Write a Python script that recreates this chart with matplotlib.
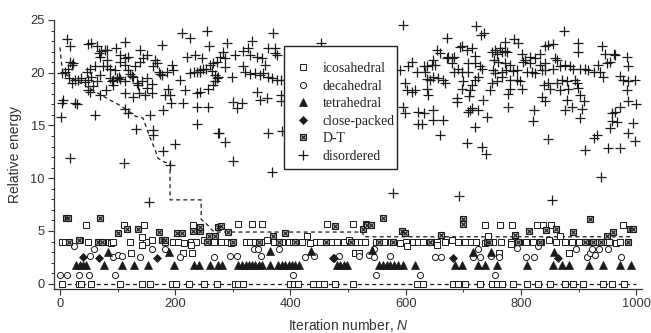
import matplotlib
matplotlib.use('Agg')
import matplotlib.pyplot as plt
from matplotlib.patches import Rectangle
from matplotlib.legend_handler import HandlerTuple

plt.rcParams['font.family'] = ['Liberation Sans', 'DejaVu Sans']
plt.rcParams['mathtext.fontset'] = 'custom'
plt.rcParams['mathtext.it'] = 'Liberation Sans:italic'
plt.rcParams['mathtext.rm'] = 'Liberation Sans'

# ---------------- data ----------------
ico_n = [3, 33, 36, 54, 104, 142, 156, 194, 201, 224, 250, 273, 304, 309, 318, 399, 406, 413, 439, 450,
         458, 477, 509, 620, 630, 682, 691, 703, 729, 750, 759, 767, 786, 811, 830, 851, 877, 891, 908, 943,
         958, 979,
         3, 8, 35, 48, 85, 88, 92, 122, 150, 160, 182, 196, 205, 215, 228, 236, 250, 262, 268, 280,
         290, 296, 322, 330, 338, 348, 360, 372, 386, 398, 405, 420, 433, 445, 452, 470, 480, 492, 502, 515,
         522, 530, 548, 562, 575, 590, 600, 612, 622, 630, 645, 655, 668, 680, 690, 702, 714, 722, 737, 752,
         765, 782, 797, 808, 820, 834, 848, 860, 876, 888, 900, 912, 930, 945, 952, 965, 972, 985,
         45, 111, 146, 231, 309, 333, 350, 463, 508, 531, 738, 764, 784, 828, 838, 852, 977,
         124, 213, 229, 143, 143, 227, 512, 519, 428, 743, 868, 884, 762, 782, 655, 602]
ico_e = [0] * 42 + \
        [4.0, 4.0, 4.1, 4.0, 4.0, 3.9, 4.0, 4.0, 4.0, 4.1, 4.0, 4.0, 4.0, 3.9, 4.0, 4.0, 4.1, 4.0, 4.0, 4.0,
         4.0, 3.9, 4.0, 4.0, 4.0, 4.0, 4.1, 4.0, 4.0, 4.0, 4.0, 4.0, 3.9, 4.0, 4.0, 4.0, 4.0, 4.0, 4.1, 4.0,
         4.0, 4.0, 4.0, 4.0, 4.0, 3.9, 4.0, 4.0, 4.0, 4.0, 4.0, 4.0, 4.0, 4.1, 4.0, 4.0, 4.0, 4.0, 3.9, 4.0,
         4.0, 4.0, 4.0, 4.0, 4.0, 4.0, 4.1, 4.0, 4.0, 4.0, 4.0, 4.0, 4.0, 4.0, 4.0, 3.9, 4.0, 4.0] + \
        [5.6, 5.6, 5.6, 5.6, 5.7, 5.7, 5.7, 5.7, 5.7, 5.7, 5.6, 5.6, 5.6, 5.6, 5.6, 5.6, 5.6] + \
        [2.9, 2.9, 2.9, 4.4, 3.7, 3.7, 2.9, 2.9, 4.5, 4.5, 4.5, 2.9, 2.9, 3.8, 3.7, 3.6]

dec_n = [0, 12, 33, 51, 95, 404, 548, 625, 755,
         24, 52, 59, 92, 100, 107, 139, 159, 183, 208, 268,
         336, 343, 295, 307, 349, 380, 425, 441, 484, 519, 536, 545, 545, 573, 651,
         661, 717, 725, 729, 748, 762, 793, 809, 823, 830, 896, 915, 919, 924, 929, 936, 951, 974]
dec_e = [0.8, 0.8, 0.8, 0.8, 0.8, 0.8, 0.8, 0.8, 0.8,
         3.6, 2.65, 3.3, 2.5, 2.7, 2.6, 2.5, 3.3, 3.3, 2.5, 2.5,
         3.3, 3.3, 2.65, 2.65, 2.65, 3.3, 2.5, 2.65, 2.65, 2.6, 2.7, 3.3, 2.5, 2.65, 2.5,
         2.5, 2.5, 3.3, 2.5, 2.65, 2.5, 3.4, 2.5, 2.5, 3.6, 3.3, 2.5, 2.95, 3.3, 2.75, 3.3, 3.3, 2.5]

tet_n = [28, 35, 40, 45, 77, 108, 128, 153, 198, 233, 241, 260, 274, 84, 190,
         281, 309, 316, 322, 328, 333, 339, 345, 351, 365, 379, 385, 391, 397, 402, 408, 414,
         480, 486, 492, 498, 554, 561, 567, 573, 579, 587, 596, 616, 365, 435, 542,
         686, 697, 726, 738, 759, 811, 856, 871, 884, 918, 943, 971, 991, 716, 748, 858]
tet_e = [1.8] * 13 + [3.0, 3.0] + [1.8] * 29 + [3.1, 3.1, 3.2] + [1.8] * 13 + [3.0, 3.0, 3.0]

cp_n = [40, 68, 169, 474, 476, 682, 865]
cp_e = [2.5, 2.4, 2.4, 2.4, 2.4, 2.4, 2.4]

dt_n = [10, 14, 69, 33, 16, 66, 73, 101, 117, 135, 172, 177, 182, 203, 211, 230, 243, 243, 255, 275,
        279, 259, 269, 292, 301, 346, 369, 380, 391, 407, 462, 477, 505, 526, 532, 539, 560, 554, 578,
        593, 599, 642, 662, 700, 700, 741, 745, 790, 794, 814, 833, 844, 861, 891, 920, 911, 925, 938,
        949, 960, 990, 995, 986]
dt_e = [6.2, 6.2, 6.2, 4.15, 4.0, 4.0, 4.0, 4.8, 5.2, 5.2, 4.9, 4.15, 4.15, 4.8, 4.8, 5.0, 5.0, 5.4, 4.0, 5.4,
        5.5, 4.5, 4.5, 4.9, 4.0, 4.0, 4.5, 4.0, 4.8, 4.0, 4.0, 5.5, 4.0, 5.2, 5.6, 5.6, 6.25, 4.0, 4.0,
        5.0, 4.8, 4.0, 4.6, 6.1, 5.7, 4.0, 4.0, 4.6, 4.0, 5.0, 4.0, 5.1, 5.2, 4.9, 6.15, 4.0, 4.0, 4.0,
        4.55, 4.9, 5.2, 5.2, 4.0]

dis_n = [13, 17, 3, 8, 14, 20, 17, 22, 15, 26, 21, 32, 37, 43, 49, 53, 47, 52, 49, 58,
         52, 64, 69, 61, 49, 53, 64, 68, 72, 78, 81, 69, 81, 75, 81, 87, 95, 87, 92, 90,
         99, 102, 104, 92, 80, 70, 97, 113, 104, 113, 118, 104, 113, 118, 122, 125, 127, 113, 113, 127,
         137, 139, 130, 139, 144, 151, 134, 142, 151, 135, 151, 148, 159, 159, 162, 165, 168, 171, 177, 174,
         177, 185, 194, 196, 188, 182, 191, 193, 179, 208, 211, 226, 220, 234, 246, 255, 259, 217, 214, 226,
         232, 237, 243, 243, 249, 254, 260, 266, 272, 263, 272, 269, 257, 243, 237, 237, 257, 237, 275, 3,
         6, 26, 29, 1, 61, 17, 111, 132, 156, 161, 162, 179, 200, 191, 113, 118, 155,
         370, 333, 290, 361, 373, 373, 376, 327, 318, 304, 283, 286, 278, 330, 342, 350, 356, 318, 321, 330,
         339, 347, 353, 361, 368, 376, 384, 298, 286, 269, 275, 266, 342, 347, 359, 301, 316, 307, 276, 286,
         301, 361, 368, 384, 384, 386,
         453, 595, 604, 611, 619, 599, 602, 611, 616, 590, 595, 599, 622, 621, 578, 693, 854, 938,
         722, 731, 736, 875, 671, 899, 899, 941, 946, 961, 964, 984, 986, 955, 949, 934, 788, 795, 773, 773,
         764, 755, 750, 758, 767, 776, 753, 760, 773, 781, 751, 755, 767, 774, 787, 793, 802, 804, 807, 816,
         825, 833, 842, 847, 856, 859, 862, 842, 816, 810, 819, 825, 842, 856, 868, 877, 885, 891, 903, 911,
         917, 926, 937, 943, 972, 977, 986, 998, 984, 986, 1000, 972, 964, 958, 958, 967, 955, 995, 986, 998,
         971, 951, 911, 926, 932, 903, 906, 909, 903, 888, 877, 880, 899, 894, 897, 882, 880, 872, 867, 862,
         847, 851, 840, 836, 842, 823, 821, 847, 798, 793, 802, 781, 781, 778, 778, 767, 758, 750, 746, 734,
         741, 720, 726, 712, 708, 715, 706, 733, 740, 710, 712, 715, 720, 726, 733, 729, 720, 708, 720, 715,
         706, 698, 694, 708, 691, 698, 683, 680, 674, 672, 680, 683, 660, 654, 648, 646, 651, 637, 631, 634,
         637, 642, 656, 665, 668, 648, 637, 639, 689, 689, 698, 700, 648, 647, 665, 660, 631, 628, 833, 836]
dis_e = [23.2, 22.5, 20.0, 20.1, 20.4, 20.7, 21.0, 20.9, 19.5, 19.3, 19.0, 19.3, 19.5, 19.1, 19.3, 19.6, 20.1, 20.4, 18.4, 18.7,
         18.2, 19.2, 19.8, 20.6, 22.7, 22.8, 22.5, 21.9, 22.1, 22.2, 22.2, 21.5, 21.2, 20.6, 20.6, 20.4, 20.3, 19.5, 19.3, 19.2,
         19.5, 19.6, 19.4, 18.8, 18.4, 17.9, 22.3, 22.9, 21.7, 21.4, 21.5, 21.0, 20.7, 20.3, 19.9, 19.7, 19.6, 19.2, 18.1, 17.7,
         18.1, 22.2, 20.6, 21.0, 21.4, 21.7, 19.0, 19.2, 19.5, 18.8, 18.6, 17.9, 18.1, 18.9, 20.6, 21.2, 20.9, 20.1, 22.6, 19.9,
         19.8, 20.1, 20.7, 20.3, 18.5, 17.9, 17.9, 17.1, 16.5, 19.3, 23.8, 23.3, 21.5, 21.7, 21.4, 24.0, 22.5, 18.4, 17.1, 20.0,
         20.1, 20.1, 20.3, 20.1, 20.4, 20.4, 20.7, 20.9, 21.0, 20.2, 19.5, 19.2, 18.5, 18.2, 18.1, 16.8, 16.8, 15.1, 14.3, 17.1,
         17.4, 17.1, 17.0, 15.8, 16.0, 11.9, 11.4, 14.7, 16.0, 14.6, 14.1, 12.6, 13.2, 11.3, 16.6, 16.2, 7.7,
         23.8, 23.0, 22.8, 22.3, 22.3, 21.9, 21.7, 22.3, 22.1, 21.7, 22.0, 21.4, 21.5, 21.7, 21.5, 21.4, 20.7, 20.6, 20.1, 19.9,
         20.0, 19.8, 20.0, 19.6, 19.5, 19.3, 19.3, 19.6, 20.5, 19.8, 19.6, 18.8, 18.2, 17.4, 17.6, 17.2, 17.1, 16.7, 14.3, 13.4,
         11.6, 14.3, 10.6, 17.9, 17.3, 14.5,
         22.8, 24.5, 20.6, 21.0, 20.1, 19.0, 18.4, 18.2, 18.4, 20.3, 16.8, 16.2, 16.3, 15.1, 8.6, 8.3, 7.9, 10.1,
         24.4, 23.6, 23.8, 24.0, 23.3, 22.8, 22.0, 22.5, 21.8, 21.8, 21.7, 21.5, 20.6, 21.0, 20.9, 20.7, 23.2, 22.8, 22.9, 22.1,
         22.3, 22.2, 22.0, 21.8, 22.0, 22.0, 21.2, 21.0, 20.9, 20.7, 20.3, 20.0, 20.1, 20.3, 20.2, 20.3, 21.8, 21.0, 21.2, 21.5,
         21.4, 21.8, 22.5, 22.6, 22.7, 21.4, 21.2, 20.9, 20.9, 20.1, 20.1, 20.0, 20.3, 20.4, 20.6, 20.7, 20.6, 20.4, 20.4, 20.4,
         20.3, 20.1, 20.1, 19.6, 19.7, 19.3, 19.2, 19.3, 18.4, 17.3, 17.0, 16.8, 16.3, 16.2, 15.4, 15.3, 14.8, 15.2, 14.3, 13.5,
         12.9, 12.9, 12.7, 13.8, 14.1, 15.7, 16.6, 17.3, 17.9, 16.8, 16.5, 17.4, 18.6, 19.3, 19.0, 18.5, 19.2, 19.3, 18.4, 19.0,
         19.0, 18.5, 18.8, 17.7, 17.3, 16.5, 15.4, 13.7, 19.2, 19.3, 18.5, 19.3, 18.5, 18.0, 16.8, 19.6, 19.2, 19.0, 18.4, 17.4,
         15.8, 14.9, 16.5, 16.5, 16.3, 16.7, 13.3, 13.0, 12.3, 17.8, 18.4, 18.8, 19.3, 19.6, 20.4, 20.6, 20.9, 20.9, 21.6, 22.3,
         22.2, 22.5, 22.4, 20.1, 20.4, 20.1, 20.1, 20.9, 21.5, 21.4, 21.4, 21.5, 21.9, 22.2, 21.2, 20.7, 20.7, 20.6, 20.6, 20.1,
         19.4, 19.3, 19.5, 19.3, 19.0, 19.6, 18.5, 17.9, 17.6, 17.2, 18.5, 19.2, 16.5, 15.5, 15.5, 14.1, 16.2, 15.1, 20.7, 20.3]

best_n = [0, 2, 5, 87, 101, 116, 130, 144, 156, 165, 170, 182, 191, 191, 245, 245, 252, 262, 268, 525, 527, 990]
best_e = [22.4, 21.2, 20.0, 17.4, 17.0, 16.5, 15.9, 15.7, 13.9, 12.7, 11.9, 11.5, 11.5, 7.95, 7.95, 6.1, 5.8,
          5.2, 4.9, 4.9, 4.45, 4.45]
zero_n = [0, 1000]
zero_e = [0, 0]

labels = ['icosahedral', 'decahedral', 'tetrahedral', 'close-packed', 'D-T', 'disordered']

# ---------------- figure ----------------
fig = plt.figure(figsize=(6.51, 3.33), dpi=100)
ax = fig.add_axes([54 / 651, 1 - 289 / 333, 588 / 651, 269 / 333])

K = '#1a1a1a'
dash = dict(color=K, lw=0.9, dashes=(3.2, 2.6))
ax.plot(best_n, best_e, **dash, zorder=1)
ax.plot(zero_n, zero_e, **dash, zorder=1)

h_dis, = ax.plot(dis_n, dis_e, ls='none', marker='+', ms=7, mew=0.9, color=K, zorder=2)
h_ico, = ax.plot(ico_n, ico_e, ls='none', marker='s', ms=4, mew=0.7, mfc='white', mec=K, zorder=3)
h_dec, = ax.plot(dec_n, dec_e, ls='none', marker='o', ms=4.4, mew=0.7, mfc='white', mec=K, zorder=3)
h_tet, = ax.plot(tet_n, tet_e, ls='none', marker='^', ms=5.2, mew=0.5, mfc=K, mec=K, zorder=3)
h_cp, = ax.plot(cp_n, cp_e, ls='none', marker='D', ms=4.0, mew=0.5, mfc=K, mec=K, zorder=3)
h_dt1, = ax.plot(dt_n, dt_e, ls='none', marker='s', ms=4.4, mew=0.8, mfc='#bbbbbb', mec=K, zorder=4)
h_dt2, = ax.plot(dt_n, dt_e, ls='none', marker='x', ms=3.0, mew=0.8, color=K, zorder=5)

ax.set_xlim(-10.4, 1010)
ax.set_ylim(-0.5, 25)
ax.set_xticks([0, 200, 400, 600, 800, 1000])
ax.set_xticks(range(100, 1000, 200), minor=True)
ax.set_yticks([0, 5, 10, 15, 20, 25])
ax.set_yticks([v for v in range(0, 26) if v % 5], minor=True)
for s in ['top', 'right']:
    ax.spines[s].set_visible(False)
for s in ['left', 'bottom']:
    ax.spines[s].set_linewidth(0.9)
    ax.spines[s].set_color('#333333')
ax.tick_params(which='major', direction='out', length=4, width=0.8, colors='#333333',
               labelsize=9.3, labelcolor='#333333', pad=2.5)
ax.tick_params(which='minor', direction='out', length=2.2, width=0.7, colors='#333333')

ax.set_xlabel('Iteration number, $\\mathit{N}$', fontsize=10, color='#333333', labelpad=5)
ax.set_ylabel('Relative energy', fontsize=10, color='#333333', labelpad=6)

# legend frame
lx0 = (284 - 54) / 588
ly0 = (289 - 169) / 269
lw = (397 - 284) / 588
lh = (169 - 46) / 269
ax.add_patch(Rectangle((lx0, ly0), lw, lh, transform=ax.transAxes, fill=True, fc='white',
                       ec='#222222', lw=1.0, zorder=10, clip_on=False))
leg = ax.legend([h_ico, h_dec, h_tet, h_cp, (h_dt1, h_dt2), h_dis], labels,
                handler_map={tuple: HandlerTuple(ndivide=1, pad=0)},
                loc='upper left', bbox_to_anchor=((292 - 54) / 588, (289 - 62) / 269),
                frameon=False, prop={'family': 'Liberation Serif', 'size': 9.9},
                handlelength=1.6, handletextpad=0.65, labelspacing=0.33, borderpad=0,
                borderaxespad=0, numpoints=1)
leg.set_zorder(11)
for t in leg.get_texts():
    t.set_color('#222222')

fig.savefig('out.png', dpi=100)
